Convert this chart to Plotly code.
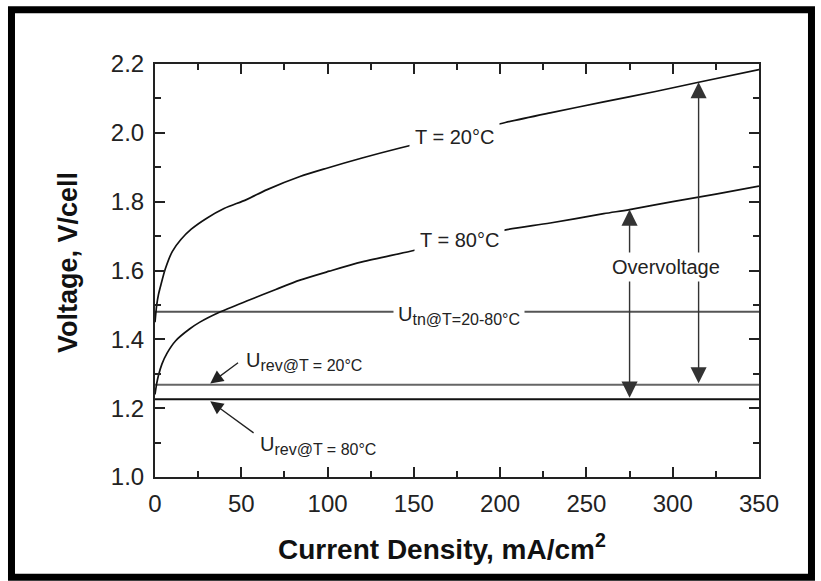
import plotly.graph_objects as go

# ---- data ----
j20 = [0, 1, 2, 3.5, 6, 10, 15, 21, 30, 40, 53, 65, 84, 100, 120, 142, 170, 203, 229, 260, 290, 315, 350]
v20 = [1.45, 1.50, 1.53, 1.56, 1.605, 1.655, 1.69, 1.72, 1.752, 1.78, 1.806, 1.835, 1.873, 1.898, 1.927,
       1.956, 1.99, 2.03, 2.058, 2.09, 2.12, 2.147, 2.184]
j80 = [0, 1, 2, 4, 7, 12, 20, 26, 37, 55, 70, 84, 101, 120, 148, 175, 204, 229, 260, 275, 300, 325, 350]
v80 = [1.24, 1.272, 1.295, 1.328, 1.36, 1.396, 1.43, 1.45, 1.478, 1.515, 1.545, 1.572, 1.598, 1.625, 1.656,
       1.688, 1.719, 1.738, 1.765, 1.777, 1.800, 1.822, 1.845]
x_range = [0, 350]
y_range = [1.0, 2.2]
u_tn = 1.48
u_rev20 = 1.268
u_rev80 = 1.226
arrow_a_x = 275
arrow_b_x = 315
arrow_a_top = 1.777
arrow_b_top = 2.147

FONT = "Liberation Sans, Arial, sans-serif"

fig = go.Figure()
fig.add_trace(go.Scatter(x=x_range, y=[u_tn, u_tn], mode="lines", line=dict(color="#555", width=2)))
fig.add_trace(go.Scatter(x=x_range, y=[u_rev20, u_rev20], mode="lines", line=dict(color="#666", width=2.2)))
fig.add_trace(go.Scatter(x=x_range, y=[u_rev80, u_rev80], mode="lines", line=dict(color="#111", width=2)))
fig.add_trace(go.Scatter(x=j20, y=v20, mode="lines", line=dict(color="#111", width=1.7, shape="spline", smoothing=0.8)))
fig.add_trace(go.Scatter(x=j80, y=v80, mode="lines", line=dict(color="#111", width=1.7, shape="spline", smoothing=0.8)))

ann = []
# overvoltage double arrows
for ax_, top, bot in [(arrow_a_x, arrow_a_top, u_rev80), (arrow_b_x, arrow_b_top, u_rev20)]:
    ann.append(dict(x=ax_, y=top, ax=ax_, ay=bot, xref="x", yref="y", axref="x", ayref="y",
                    text="", showarrow=True, arrowside="end+start", arrowhead=2, startarrowhead=2,
                    arrowwidth=1.4, arrowsize=2.3, startarrowsize=2.3, arrowcolor="#333"))
# U_rev arrows
ann.append(dict(x=32, y=u_rev20 + 0.004, ax=49, ay=1.335, xref="x", yref="y", axref="x", ayref="y",
                text="", showarrow=True, arrowhead=2, arrowwidth=1.3, arrowsize=2.0, arrowcolor="#222"))
ann.append(dict(x=32, y=u_rev80 - 0.006, ax=58, ay=1.125, xref="x", yref="y", axref="x", ayref="y",
                text="", showarrow=True, arrowhead=2, arrowwidth=1.3, arrowsize=2.0, arrowcolor="#222"))

lab = dict(xref="x", yref="y", showarrow=False, font=dict(family=FONT, size=20, color="#222"))
SUB = '<sub><span style="font-size:16px">{}</span></sub>'
ann.append(dict(x=173.5, y=1.989, text="T = 20°C", bgcolor="white", borderpad=5, **lab))
ann.append(dict(x=176.7, y=1.690, text="T = 80°C", bgcolor="white", borderpad=5, **lab))
ann.append(dict(x=176, y=1.47, text="U" + SUB.format("tn@T=20-80°C"), bgcolor="white", borderpad=4, **lab))
ann.append(dict(x=296, y=1.609, text="Overvoltage", bgcolor="white", borderpad=3, **lab))
ann.append(dict(x=51.5, y=1.335, text="U" + SUB.format("rev@T = 20°C"), xanchor="left", **lab))
ann.append(dict(x=59.5, y=1.092, text="U" + SUB.format("rev@T = 80°C"), xanchor="left", **lab))

# axis titles
ann.append(dict(x=0.475, y=-0.17, xref="paper", yref="paper", showarrow=False, yanchor="middle",
                text="<b>Current Density, mA/cm<sup>2</sup></b>",
                font=dict(family=FONT, size=28, color="#111")))
ann.append(dict(x=-0.171, y=0.52, xref="paper", yref="paper", showarrow=False, textangle=-90,
                text="<b>Voltage, V/cell</b>", font=dict(family=FONT, size=27, color="#111")))

fig.update_layout(
    width=821, height=581,
    margin=dict(l=155, r=62, t=64, b=104),
    paper_bgcolor="white", plot_bgcolor="white",
    showlegend=False,
    annotations=ann,
    shapes=[dict(type="rect", xref="paper", yref="paper",
                 x0=-0.2376, x1=1.0869, y0=-0.2426, y1=1.1315,
                 line=dict(color="black", width=7), layer="above")],
)
axis_common = dict(showgrid=False, zeroline=False, showline=True, linecolor="#222", linewidth=2,
                   mirror="ticks", ticks="inside", ticklen=10, tickwidth=2, tickcolor="#222",
                   tickfont=dict(family=FONT, size=24, color="#222"), tickmode="linear")
fig.update_xaxes(range=x_range, tick0=0, dtick=50, ticklabelstandoff=4, **axis_common,
                 minor=dict(dtick=25, tick0=0, ticklen=6, tickwidth=2, ticks="inside", tickcolor="#222"))
fig.update_yaxes(range=y_range, tick0=1.0, dtick=0.2, tickformat=".1f", ticklabelstandoff=4, **axis_common,
                 minor=dict(dtick=0.1, tick0=1.0, ticklen=6, tickwidth=2, ticks="inside", tickcolor="#222"))

fig.write_html("out.html")
